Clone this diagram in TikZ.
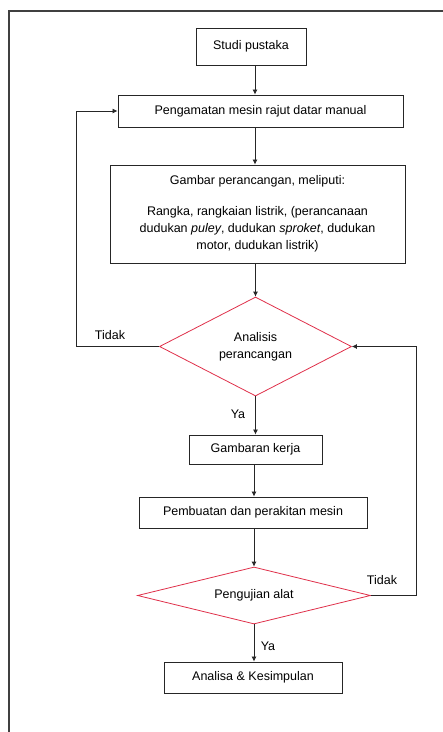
\documentclass[tikz,border=0pt]{standalone}
\usepackage{fontspec}
\setmainfont{Liberation Sans}
\usetikzlibrary{shapes.geometric,arrows.meta}
\definecolor{dred}{HTML}{E0304A}
\tikzset{
  box/.style={draw=black!85, line width=0.9pt, inner sep=0pt, align=center},
  dia/.style={diamond, draw=dred, line width=0.8pt, inner sep=0pt, align=center},
  arr/.style={draw=black!85, line width=0.8pt, -{Latex[length=5pt,width=5pt]}},
  lbl/.style={inner sep=0pt}
}
\begin{document}
\begin{tikzpicture}[x=1pt,y=-1pt,font=\fontsize{12.5}{17}\selectfont]
\useasboundingbox (0,0) rectangle (443,732);
\fill[white] (0,0) rectangle (443,732);
% outer frame
\draw[black!75, line width=1.5pt] (9,732) -- (9,11) -- (443,11);
% nodes
\node[box, minimum width=110pt, minimum height=37pt] (studi) at (251,46.5) {Studi pustaka};
\node[box, minimum width=285pt, minimum height=32pt] (peng) at (260.5,111) {Pengamatan mesin rajut datar manual};
\node[box, minimum width=295pt, minimum height=98pt] (gambar) at (257.5,214)
  {Gambar perancangan, meliputi:\\[14pt]
   Rangka, rangkaian listrik, (perancanaan\\
   dudukan \textit{puley}, dudukan \textit{sproket}, dudukan\\
   motor, dudukan listrik)};
\node[dia, shape aspect=1.94, minimum width=192pt, minimum height=99pt] (d1) at (255.5,346.5) {Analisis\\perancangan};
\node[box, minimum width=133pt, minimum height=29pt] (gk) at (255.5,449.5) {Gambaran kerja};
\node[box, minimum width=228pt, minimum height=31pt] (pemb) at (253,512.5) {Pembuatan dan perakitan mesin};
\node[dia, shape aspect=4.09, minimum width=233pt, minimum height=57pt] (d2) at (254,595.5) {Pengujian alat};
\node[box, minimum width=178pt, minimum height=31pt] (an) at (253,677.5) {Analisa \& Kesimpulan};
% axis
\coordinate (ax) at (255,0);
% connectors
\draw[arr] (studi.south -| ax) -- (peng.north -| ax);
\draw[arr] (peng.south -| ax) -- (gambar.north -| ax);
\draw[arr] (gambar.south -| d1.north) -- (d1.north);
\draw[arr] (d1.south) -- (gk.north -| d1.south);
\draw[arr] (gk.south -| d2.north) -- (pemb.north -| d2.north);
\draw[arr] (pemb.south -| d2.north) -- (d2.north);
\draw[arr] (d2.south) -- (an.north -| d2.south);
\draw[arr] (d1.west) -- ++(-83,0) |- (peng.west);
\draw[arr] (d2.east) -- ++(45,0) |- (d1.east);
% labels
\node[lbl] (t1) at (110,335) {Tidak};
\node[lbl] (y1) at (238,414) {Ya};
\node[lbl] (t2) at (382,580) {Tidak};
\node[lbl] (y2) at (268,646) {Ya};
\end{tikzpicture}
\end{document}
